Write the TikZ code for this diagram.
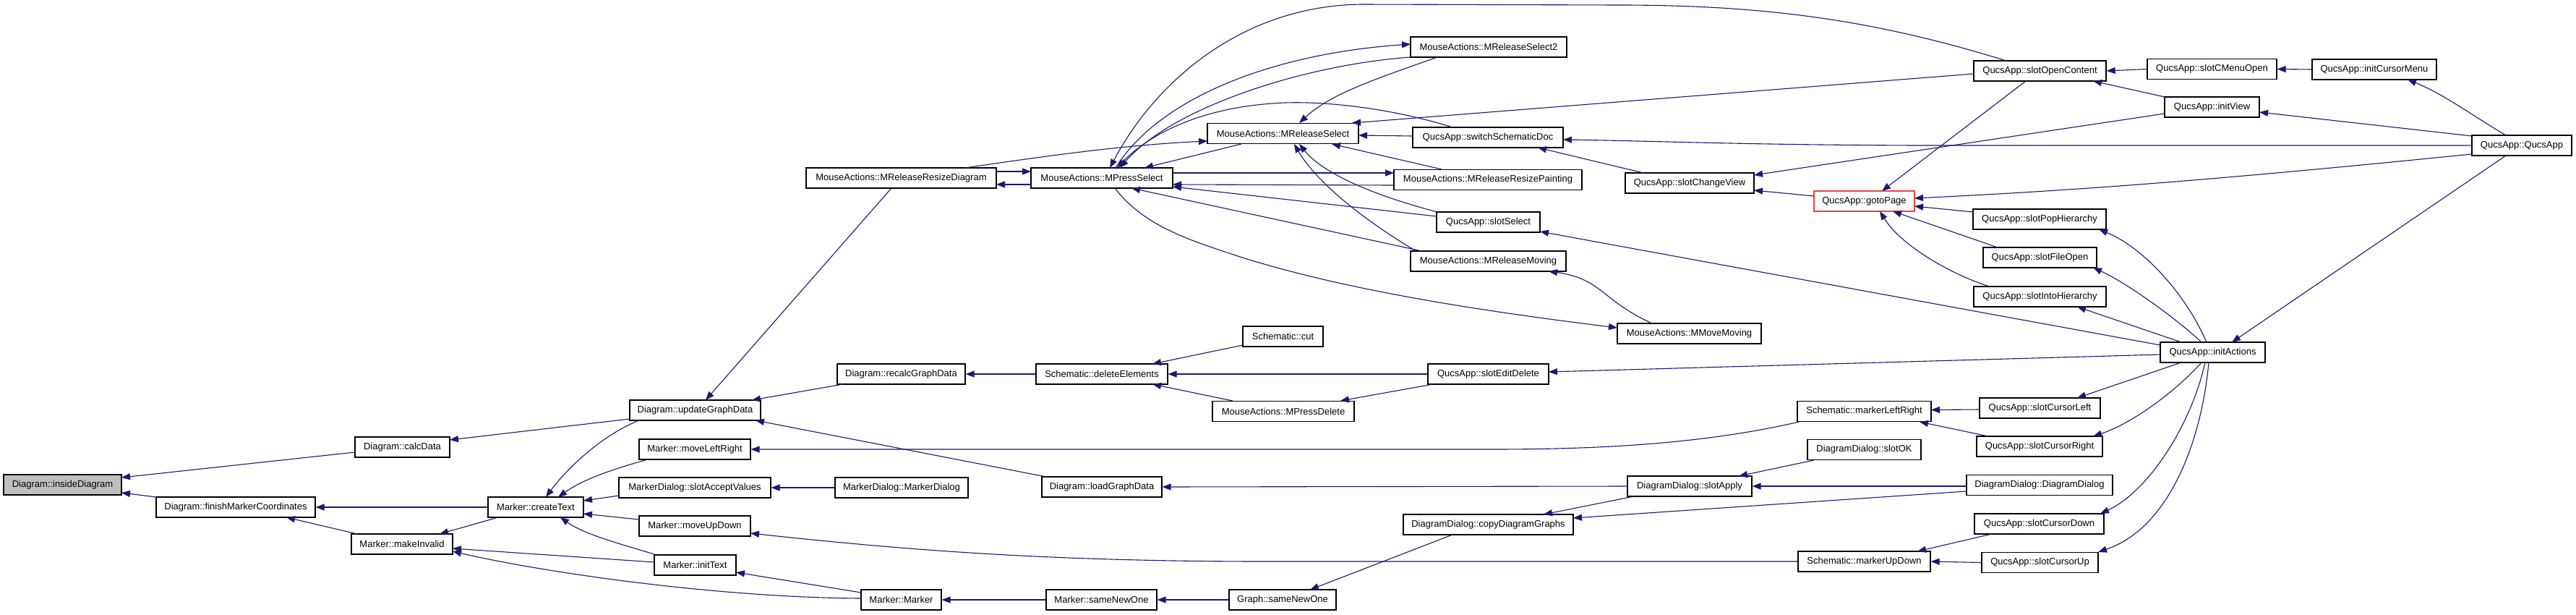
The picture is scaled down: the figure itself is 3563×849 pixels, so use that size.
\documentclass[tikz,border=0pt]{standalone}
\usepackage{fontspec}
\setmainfont{Liberation Sans}
\usetikzlibrary{calc,arrows.meta}
\definecolor{edgeblue}{RGB}{25,25,112}
\definecolor{nodered}{RGB}{240,64,64}
\definecolor{greyfill}{RGB}{191,191,191}
\tikzset{
  fn/.style={draw=black, line width=1.2pt, fill=white, minimum height=28pt, inner sep=0pt,
    font=\fontsize{13pt}{15pt}\selectfont, text=black, anchor=center},
  edg/.style={draw=edgeblue, line width=1.1pt, -{Triangle[length=12pt,width=9pt]}}
}
\begin{document}
\begin{tikzpicture}[x=1pt,y=-1pt]
\fill[white] (0,0) rectangle (3563,849);
\useasboundingbox (0,0) rectangle (3563,849);
% nodes
\node[fn, fill=greyfill, minimum width=163pt] (A) at (86.5,670) {Diagram::insideDiagram};
\node[fn, minimum width=131pt] (B) at (556.5,618) {Diagram::calcData};
\node[fn, minimum width=220pt] (C) at (326,701) {Diagram::finishMarkerCoordinates};
\node[fn, minimum width=132pt] (D) at (741,701) {Marker::createText};
\node[fn, minimum width=140pt] (E) at (556,752) {Marker::makeInvalid};
\node[fn, minimum width=181pt] (F) at (961.5,567) {Diagram::updateGraphData};
\node[fn, minimum width=154pt] (G) at (961,621) {Marker::moveLeftRight};
\node[fn, minimum width=210pt] (H) at (961,674) {MarkerDialog::slotAcceptValues};
\node[fn, minimum width=154pt] (I) at (961,727) {Marker::moveUpDown};
\node[fn, minimum width=113pt] (J) at (961.5,781) {Marker::initText};
\node[fn, minimum width=263pt] (K) at (1246.5,246) {MouseActions::MReleaseResizeDiagram};
\node[fn, minimum width=177pt] (L) at (1246.5,517) {Diagram::recalcGraphData};
\node[fn, minimum width=184pt] (M) at (1247,674) {MarkerDialog::MarkerDialog};
\node[fn, minimum width=111pt] (N) at (1246.5,829) {Marker::Marker};
\node[fn, minimum width=196pt] (O) at (1524,246) {MouseActions::MPressSelect};
\node[fn, minimum width=182pt] (P) at (1524,517) {Schematic::deleteElements};
\node[fn, minimum width=166pt] (Q) at (1524,673) {Diagram::loadGraphData};
\node[fn, minimum width=153pt] (R) at (1523.5,829) {Marker::sameNewOne};
\node[fn, minimum width=209pt] (S) at (1774.5,184.5) {MouseActions::MReleaseSelect};
\node[fn, minimum width=111pt] (T) at (1774.5,465) {Schematic::cut};
\node[fn, minimum width=196pt] (U) at (1775,568.5) {MouseActions::MPressDelete};
\node[fn, minimum width=148pt] (V) at (1774,829) {Graph::sameNewOne};
\node[fn, minimum width=216pt] (W) at (2059,65) {MouseActions::MReleaseSelect2};
\node[fn, minimum width=208pt] (X) at (2058,190) {QucsApp::switchSchematicDoc};
\node[fn, minimum width=260pt] (Y) at (2058,248.5) {MouseActions::MReleaseResizePainting};
\node[fn, minimum width=143pt] (Z) at (2058.5,307) {QucsApp::slotSelect};
\node[fn, minimum width=215pt] (AA) at (2058.5,361) {MouseActions::MReleaseMoving};
\node[fn, minimum width=167pt] (AB) at (2058.5,517) {QucsApp::slotEditDelete};
\node[fn, minimum width=235pt] (AC) at (2058.5,725) {DiagramDialog::copyDiagramGraphs};
\node[fn, minimum width=178pt] (AD) at (2337,253) {QucsApp::slotChangeView};
\node[fn, minimum width=199pt] (AE) at (2336.5,461) {MouseActions::MMoveMoving};
\node[fn, minimum width=172pt] (AF) at (2337,672) {DiagramDialog::slotApply};
\node[fn, draw=nodered, minimum width=139pt] (AG) at (2578.5,278) {QucsApp::gotoPage};
\node[fn, minimum width=185pt] (AH) at (2578.5,568.5) {Schematic::markerLeftRight};
\node[fn, minimum width=157pt] (AI) at (2578.5,621.5) {DiagramDialog::slotOK};
\node[fn, minimum width=183pt] (AJ) at (2578.5,776) {Schematic::markerUpDown};
\node[fn, minimum width=183pt] (AK) at (2821.5,98) {QucsApp::slotOpenContent};
\node[fn, minimum width=184pt] (AL) at (2821,303) {QucsApp::slotPopHierarchy};
\node[fn, minimum width=157pt] (AM) at (2821.5,356) {QucsApp::slotFileOpen};
\node[fn, minimum width=183pt] (AN) at (2821.5,410) {QucsApp::slotIntoHierarchy};
\node[fn, minimum width=167pt] (AO) at (2821.5,564) {QucsApp::slotCursorLeft};
\node[fn, minimum width=174pt] (AP) at (2821,617) {QucsApp::slotCursorRight};
\node[fn, minimum width=202pt] (AQ) at (2821,670.5) {DiagramDialog::DiagramDialog};
\node[fn, minimum width=179pt] (AR) at (2820.5,724) {QucsApp::slotCursorDown};
\node[fn, minimum width=161pt] (AS) at (2821.5,777.5) {QucsApp::slotCursorUp};
\node[fn, minimum width=179pt] (AT) at (3059.5,95.5) {QucsApp::slotCMenuOpen};
\node[fn, minimum width=131pt] (AU) at (3059.5,148) {QucsApp::initView};
\node[fn, minimum width=145pt] (AV) at (3060.5,487) {QucsApp::initActions};
\node[fn, minimum width=172pt] (AW) at (3284,96) {QucsApp::initCursorMenu};
\node[fn, minimum width=138pt] (AX) at (3488,201) {QucsApp::QucsApp};
% edges
\draw[edg] ($(B)+(-65.5,7)$) -- ($(A)+(81.5,-10)$);
\draw[edg] ($(C)+(-110,-14)$) -- ($(A)+(81.5,11)$);
\draw[edg] ($(F)+(-90.5,12)$) -- ($(B)+(65.5,-10)$);
\draw[edg] (D.west) -- (C.east);
\draw[edg] ($(E)+(-62,-14)$) -- ($(C)+(70,14)$);
\draw[edg] ($(D)+(-52,14)$) -- ($(E)+(52,-14)$);
\draw[edg] ($(J)+(-56.5,-4)$) -- ($(E)+(70,6)$);
\draw[edg] ($(N)+(-55.5,-2)$) .. controls (1000,826) and (760,793) .. ($(E)+(70,10)$);
\draw[edg] ($(F)+(-77.5,14)$) .. controls (840,598) and (790,640) .. ($(D)+(14,-14)$);
\draw[edg] ($(G)+(-65,14)$) .. controls (860,645) and (810,660) .. ($(D)+(31,-14)$);
\draw[edg] ($(H)+(-105,11)$) -- ($(D)+(66,-9)$);
\draw[edg] ($(I)+(-77,-9)$) -- ($(D)+(66,9)$);
\draw[edg] ($(J)+(-53.5,-14)$) .. controls (870,755) and (810,740) .. ($(D)+(34,14)$);
\draw[edg] ($(K)+(-13.5,14)$) -- ($(F)+(14.5,-14)$);
\draw[edg] ($(L)+(-80.5,14)$) -- ($(F)+(78.5,-14)$);
\draw[edg] ($(Q)+(-77,-14)$) -- ($(F)+(83.5,14)$);
\draw[edg] (P.west) -- (L.east);
\draw[edg] ($(T)+(-55.5,12)$) -- ($(P)+(70,-14)$);
\draw[edg] (AB.west) -- (P.east);
\draw[edg] ($(U)+(-70,-14.5)$) -- ($(P)+(70,14)$);
\draw[edg] ($(AB)+(-76.5,14)$) -- ($(U)+(79,-14.5)$);
\draw[edg] ($(AV)+(-72.5,3)$) -- ($(AB)+(83.5,-3)$);
\draw[edg] (M.west) -- (H.east);
\draw[edg] ($(AH)+(-90,14.5)$) .. controls (2350,615) and (2200,621) .. (2064,621) -- (G.east);
\draw[edg] (AJ.west) -- (1750,776) .. controls (1450,776) and (1250,760) .. ($(I)+(77,10)$);
\draw[edg] ($(N)+(-55.5,-10)$) -- ($(J)+(56.5,10)$);
\draw[edg] (R.west) -- (N.east);
\draw[edg] (V.west) -- (R.east);
\draw[edg] ($(AC)+(-49.5,14)$) -- ($(V)+(38,-14)$);
\draw[edg] ($(AF)+(-77,14)$) -- ($(AC)+(76.5,-14)$);
\draw[edg] ($(AQ)+(-101,8.5)$) -- ($(AC)+(117.5,-9)$);
\draw[edg] (AF.west) -- (Q.east);
\draw[edg] ($(AI)+(-69.5,14.5)$) -- ($(AF)+(68,-14)$);
\draw[edg] ($(AQ)+(-101,1.5)$) -- (AF.east);
\draw[edg] ($(AO)+(-83.5,2)$) -- ($(AH)+(92.5,-2)$);
\draw[edg] ($(AP)+(-71,-14)$) -- ($(AH)+(76.5,14.5)$);
\draw[edg] ($(AR)+(-65.5,14)$) -- ($(AJ)+(73.5,-14)$);
\draw[edg] (AS.west) -- (AJ.east);
\draw[edg] ($(AV)+(-43.5,14)$) -- ($(AO)+(51.5,-14)$);
\draw[edg] ($(AV)+(-15.5,14)$) .. controls (3010,540) and (2950,585) .. ($(AP)+(74,-14)$);
\draw[edg] ($(AV)+(-10.5,14)$) .. controls (3030,590) and (2970,680) .. ($(AR)+(84.5,-14)$);
\draw[edg] ($(AV)+(-5.5,14)$) .. controls (3045,610) and (3000,730) .. ($(AS)+(80.5,-14.5)$);
\draw[edg] ($(AV)+(-8.5,-14)$) .. controls (3020,400) and (2960,340) .. ($(AL)+(82,14)$);
\draw[edg] ($(AV)+(-15.5,-14)$) .. controls (3010,440) and (2940,390) .. ($(AM)+(73.5,14)$);
\draw[edg] ($(AV)+(-43.5,-14)$) -- ($(AN)+(51.5,14)$);
\draw[edg] ($(AV)+(-72.5,-10)$) -- ($(Z)+(71.5,13)$);
\draw[edg] ($(AX)+(-22,14)$) -- ($(AV)+(26.5,-14)$);
\draw[edg] ($(AX)+(-22,-14)$) .. controls (3420,160) and (3380,130) .. ($(AW)+(46,14)$);
\draw[edg] ($(AX)+(-69,-13)$) -- ($(AU)+(65.5,7)$);
\draw[edg] (AX.west) -- (2650,201) .. controls (2400,200) and (2300,195) .. ($(X)+(104,3)$);
\draw[edg] ($(AX)+(-69,12)$) .. controls (3100,245) and (2900,262) .. ($(AG)+(69.5,-4)$);
\draw[edg] ($(AU)+(-65.5,9)$) -- ($(AD)+(89,-11)$);
\draw[edg] ($(AG)+(-69.5,-7)$) -- ($(AD)+(89,10)$);
\draw[edg] ($(AD)+(-64,-14)$) -- ($(X)+(69,14)$);
\draw[edg] ($(X)+(-104,-2)$) -- ($(S)+(104.5,2.5)$);
\draw[edg] ($(X)+(-49,-14)$) .. controls (1920,148) and (1820,138) .. (1760,143) .. controls (1660,150) and (1590,185) .. ($(O)+(21,-14)$);
\draw[edg] ($(S)+(-57.5,14.5)$) -- ($(O)+(59,-14)$);
\draw[edg] ($(AK)+(-91.5,4)$) -- ($(S)+(95.5,-14.5)$);
\draw[edg] ($(AK)+(-46.5,-14)$) .. controls (2600,30) and (2450,7) .. (2240,7) -- (1883,6) .. controls (1720,8) and (1600,110) .. ($(O)+(11,-14)$);
\draw[edg] ($(O)+(19,-14)$) .. controls (1600,140) and (1750,75) .. ($(W)+(-108,-4)$);
\draw[edg] ($(W)+(-108,14)$) .. controls (1800,90) and (1620,150) .. ($(O)+(25,-14)$);
\draw[edg] ($(W)+(-71,14)$) .. controls (1900,110) and (1840,130) .. ($(S)+(22.5,-14.5)$);
\draw[edg] ($(K)+(88.5,-14)$) .. controls (1450,215) and (1560,200) .. ($(S)+(-104.5,10.5)$);
\draw[edg] ($(K)+(131.5,-9)$) -- ($(O)+(-98,-9)$);
\draw[edg] ($(O)+(-98,9)$) -- ($(K)+(131.5,9)$);
\draw[edg] ($(O)+(98,-7)$) -- ($(Y)+(-130,-9.5)$);
\draw[edg] ($(Y)+(-130,7.5)$) -- ($(O)+(98,9)$);
\draw[edg] ($(Z)+(-71.5,-8)$) -- ($(O)+(98,12)$);
\draw[edg] ($(AA)+(-92,-14)$) -- ($(O)+(41,14)$);
\draw[edg] ($(O)+(18,14)$) .. controls (1580,310) and (1640,330) .. (1700,350) .. controls (1850,400) and (2050,430) .. ($(AE)+(-99.5,-8)$);
\draw[edg] ($(AE)+(-51.5,-14)$) .. controls (2215,415) and (2215,385) .. ($(AA)+(83.5,14)$);
\draw[edg] ($(Y)+(-64,-14.5)$) -- ($(S)+(67.5,14.5)$);
\draw[edg] ($(Z)+(-70.5,-14)$) .. controls (1900,270) and (1830,240) .. ($(S)+(22.5,14.5)$);
\draw[edg] ($(AA)+(-100,-14)$) .. controls (1880,300) and (1820,250) .. ($(S)+(15.5,14.5)$);
\draw[edg] ($(AK)+(-19.5,14)$) -- ($(AG)+(24.5,-14)$);
\draw[edg] (AT.west) -- (AK.east);
\draw[edg] (AW.west) -- (AT.east);
\draw[edg] ($(AU)+(-65.5,-14)$) -- ($(AK)+(73.5,14)$);
\draw[edg] ($(AL)+(-92,-10)$) -- ($(AG)+(69.5,7)$);
\draw[edg] ($(AM)+(-58.5,-14)$) -- ($(AG)+(39.5,14)$);
\draw[edg] ($(AN)+(-69.5,-14)$) .. controls (2700,380) and (2630,340) .. ($(AG)+(21.5,14)$);
\end{tikzpicture}
\end{document}
